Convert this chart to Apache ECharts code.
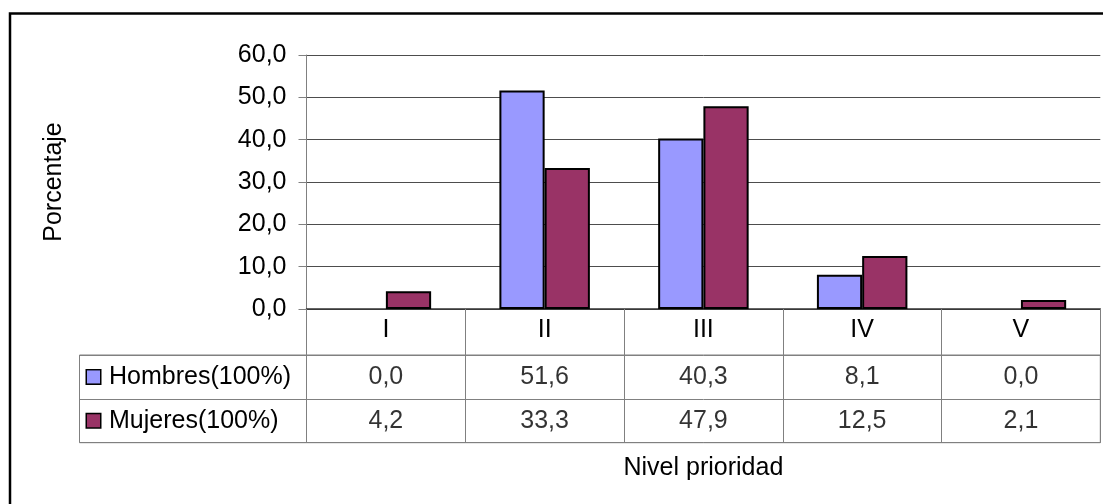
<!DOCTYPE html>
<html>
<head>
<meta charset="utf-8">
<script src="https://cdn.jsdelivr.net/npm/echarts@6/dist/echarts.min.js"></script>
<style>
  html, body { margin: 0; padding: 0; background: #fff; }
  #chart { width: 1103px; height: 504px; }
</style>
</head>
<body>
<div id="chart"></div>
<script>
// Priority levels and percentages per group
const categories = ['I', 'II', 'III', 'IV', 'V'];
const hombres = [0.0, 51.6, 40.3, 8.1, 0.0];
const mujeres = [4.2, 33.3, 47.9, 12.5, 2.1];
const seriesNames = ['Hombres(100%)', 'Mujeres(100%)'];
const seriesColors = ['#9999FF', '#993366'];
const yMin = 0, yMax = 60, yStep = 10;

const FONT = 'Arial, "Liberation Sans", sans-serif';
const fmt = v => v.toFixed(1).replace('.', ',');

// Geometry of the plot and the data table beneath it
const L = 306.5, R = 2.7, TOP = 55, PLOT_H = 254;
const TABLE_TOP = 355, TABLE_H = 87.7, HEAD_L = 79.5;
const GRAY = '#808080';

// Cells of the data table: [category index, row index, value]
const cells = [];
categories.forEach((c, i) => {
  cells.push([i, 0, hombres[i]]);
  cells.push([i, 1, mujeres[i]]);
});

// Bars with a zero value get no outline, so nothing shows on the baseline
const barData = (values, color) => values.map(v => ({
  value: v,
  itemStyle: { color: color, borderColor: '#000', borderWidth: v === 0 ? 0 : 2 }
}));

const chart = echarts.init(document.getElementById('chart'), null, { renderer: 'canvas' });

chart.setOption({
  animation: false,
  textStyle: { fontFamily: FONT },
  graphic: [{
    type: 'rect',
    shape: { x: 10, y: 13.5, width: 1200, height: 600 },
    style: { fill: 'none', stroke: '#000', lineWidth: 2.5 },
    silent: true
  }],
  grid: [
    { left: L, right: R, top: TOP, height: PLOT_H },
    { left: L, right: R, top: TABLE_TOP, height: TABLE_H, show: true,
      borderColor: GRAY, borderWidth: 1, backgroundColor: 'transparent' },
    { left: HEAD_L, top: TABLE_TOP, width: L - HEAD_L, height: TABLE_H, show: true,
      borderColor: GRAY, borderWidth: 1, backgroundColor: 'transparent' }
  ],
  xAxis: [
    {
      gridIndex: 0, type: 'category', data: categories,
      name: 'Nivel prioridad', nameLocation: 'middle', nameGap: 147,
      nameTextStyle: { fontSize: 25, color: '#000', fontFamily: FONT },
      axisLine: { show: true, lineStyle: { color: '#333', width: 1.5 } },
      axisTick: { show: true, interval: 0, length: TABLE_TOP + TABLE_H - TOP - PLOT_H,
        lineStyle: { color: GRAY, width: 1 } },
      axisLabel: { interval: 0, margin: 9, fontSize: 25, color: '#000', fontFamily: FONT },
      splitLine: { show: false }
    },
    {
      gridIndex: 1, type: 'category', data: categories, show: true,
      axisLine: { show: false }, axisTick: { show: false }, axisLabel: { show: false },
      splitLine: { show: false }
    },
    { gridIndex: 2, type: 'value', show: false }
  ],
  yAxis: [
    {
      gridIndex: 0, type: 'value', min: yMin, max: yMax, interval: yStep,
      name: 'Porcentaje', nameLocation: 'middle', nameGap: 240, nameRotate: 90,
      nameTextStyle: { fontSize: 25, color: '#000', fontFamily: FONT },
      axisLine: { show: true, lineStyle: { color: GRAY, width: 1 } },
      axisTick: { show: true, length: 8, lineStyle: { color: GRAY, width: 1 } },
      axisLabel: { formatter: v => fmt(v), margin: 20, fontSize: 25, color: '#000', fontFamily: FONT },
      splitLine: { show: true, lineStyle: { color: '#4d4d4d', width: 1 } }
    },
    {
      gridIndex: 1, type: 'category', data: seriesNames, inverse: true,
      axisLine: { show: false },
      axisTick: { show: true, interval: 0, length: L - HEAD_L, lineStyle: { color: GRAY, width: 1 } },
      axisLabel: {
        interval: 0, align: 'left', margin: L - 87,
        formatter: (v, i) => '{m' + i + '|}{t|' + v + '}',
        rich: {
          m0: { width: 13, height: 13, backgroundColor: seriesColors[0], borderColor: '#000', borderWidth: 1.5 },
          m1: { width: 13, height: 13, backgroundColor: seriesColors[1], borderColor: '#000', borderWidth: 1.5 },
          t: { fontSize: 25, color: '#000', fontFamily: FONT, padding: [0, 0, 0, 9] }
        }
      },
      splitLine: { show: true, interval: 0, lineStyle: { color: GRAY, width: 1 } }
    },
    { gridIndex: 2, type: 'value', show: false }
  ],
  series: [
    {
      name: seriesNames[0], type: 'bar', xAxisIndex: 0, yAxisIndex: 0,
      data: barData(hombres, seriesColors[0]), barGap: '0%', barCategoryGap: '43%'
    },
    {
      name: seriesNames[1], type: 'bar', xAxisIndex: 0, yAxisIndex: 0,
      data: barData(mujeres, seriesColors[1]), barGap: '0%', barCategoryGap: '43%'
    },
    {
      name: 'tabla', type: 'scatter', xAxisIndex: 1, yAxisIndex: 1,
      data: cells, symbolSize: 1,
      itemStyle: { color: 'transparent' },
      label: {
        show: true, position: 'inside', fontSize: 25, color: '#000', fontFamily: FONT,
        formatter: p => fmt(p.value[2])
      }
    }
  ]
});
</script>
</body>
</html>
